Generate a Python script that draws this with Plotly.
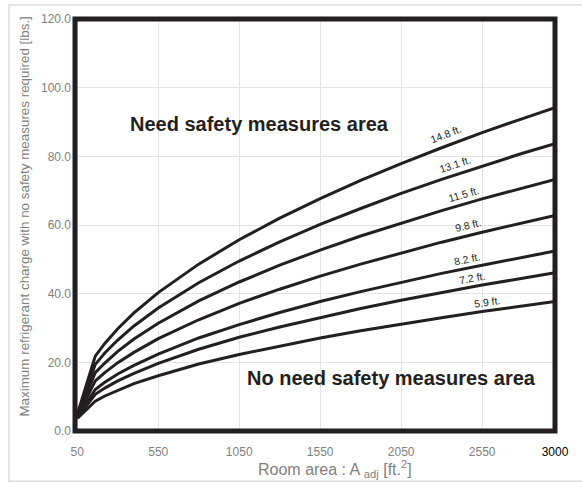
import numpy as np
import plotly.graph_objects as go

# Room area sample points [ft²]
room_area = [50, 161, 220, 300, 400, 550, 800, 1050, 1300, 1550, 1800, 2050, 2300, 2550, 2800, 3000]

# Ceiling height labels and max refrigerant charge [lbs.] per height
heights = ["14.8 ft.", "13.1 ft.", "11.5 ft.", "9.8 ft.", "8.2 ft.", "7.2 ft.", "5.9 ft."]
charge_14_8 = [4.8, 21.8, 25.5, 29.8, 34.4, 40.3, 48.6, 55.7, 62.0, 67.7, 73.0, 77.9, 82.5, 86.9, 91.0, 94.2]
charge_13_1 = [4.6, 19.4, 22.7, 26.5, 30.6, 35.8, 43.2, 49.5, 55.1, 60.2, 64.8, 69.2, 73.3, 77.2, 80.9, 83.7]
charge_11_5 = [4.4, 17.0, 19.8, 23.2, 26.8, 31.4, 37.9, 43.4, 48.3, 52.7, 56.8, 60.6, 64.2, 67.6, 70.8, 73.3]
charge_9_8 = [4.2, 14.6, 17.0, 19.9, 22.9, 26.9, 32.4, 37.2, 41.3, 45.1, 48.6, 51.9, 55.0, 57.9, 60.7, 62.8]
charge_8_2 = [4.0, 12.1, 14.2, 16.6, 19.1, 22.4, 27.1, 31.0, 34.5, 37.7, 40.6, 43.3, 45.9, 48.3, 50.6, 52.4]
charge_7_2 = [3.9, 10.7, 12.5, 14.6, 16.8, 19.7, 23.8, 27.3, 30.3, 33.1, 35.7, 38.1, 40.4, 42.5, 44.5, 46.1]
charge_5_9 = [3.7, 8.7, 10.2, 11.9, 13.8, 16.1, 19.5, 22.3, 24.8, 27.1, 29.2, 31.2, 33.0, 34.8, 36.4, 37.7]
series = [charge_14_8, charge_13_1, charge_11_5, charge_9_8, charge_8_2, charge_7_2, charge_5_9]

x_ticks = [50, 550, 1050, 1550, 2050, 2550, 3000]
y_ticks = [0, 20, 40, 60, 80, 100, 120]

INK = "#231f20"
GREY = "#808080"
FONT = "Liberation Sans, Arial, sans-serif"

W, H = 582, 483
M = dict(l=75, r=27, t=16, b=52)
X_RANGE = [36, 3000]
Y_RANGE = [0, 120]
PW = W - M["l"] - M["r"]
PH = H - M["t"] - M["b"]


def paper_x(px):
    return (px - M["l"]) / PW


def paper_y(py):
    return (H - M["b"] - py) / PH


fig = go.Figure()
for vals, name in zip(series, heights):
    fig.add_trace(go.Scatter(
        x=room_area, y=vals, mode="lines", name=name,
        line=dict(color=INK, width=3), hoverinfo="skip", showlegend=False,
    ))

# Rotated height labels sitting just above each curve
label_at = {"14.8 ft.": 2350, "13.1 ft.": 2405, "11.5 ft.": 2455, "9.8 ft.": 2480,
            "8.2 ft.": 2465, "7.2 ft.": 2495, "5.9 ft.": 2585}
label_gap = {"14.8 ft.": 11, "13.1 ft.": 10, "11.5 ft.": 10, "9.8 ft.": 10,
             "8.2 ft.": 9, "7.2 ft.": 9, "5.9 ft.": 9}
px_per_x = PW / (X_RANGE[1] - X_RANGE[0])
px_per_y = PH / (Y_RANGE[1] - Y_RANGE[0])
for vals, name in zip(series, heights):
    xa = label_at[name]
    ya = float(np.interp(xa, room_area, vals))
    dv = (np.interp(xa + 100, room_area, vals) - np.interp(xa - 100, room_area, vals)) / 200
    ang = float(np.degrees(np.arctan(dv * px_per_y / px_per_x)))
    d = label_gap[name]
    fig.add_annotation(
        x=xa, y=ya, text=name, showarrow=False, textangle=-ang,
        xanchor="center", yanchor="middle",
        xshift=-np.sin(np.radians(ang)) * d, yshift=np.cos(np.radians(ang)) * d,
        font=dict(family=FONT, size=10.5, color=INK),
    )

# Region captions
for text, cx, cy in [("Need safety measures area", 259, 122),
                     ("No need safety measures area", 391, 378)]:
    fig.add_annotation(x=paper_x(cx), y=paper_y(cy), xref="paper", yref="paper",
                       xanchor="center", yanchor="middle", text=f"<b>{text}</b>",
                       showarrow=False, font=dict(family=FONT, size=20, color=INK))

# Axis titles
fig.add_annotation(x=paper_x(335), y=paper_y(469), xref="paper", yref="paper",
                   xanchor="center", yanchor="middle", showarrow=False,
                   text="Room area : A <sub>adj</sub> [ft.<sup>2</sup>]",
                   font=dict(family=FONT, size=16, color=GREY))
fig.add_annotation(x=paper_x(25), y=paper_y(215), xref="paper", yref="paper",
                   xanchor="center", yanchor="middle", showarrow=False, textangle=-90,
                   text="Maximum refrigerant charge with no safety measures required [lbs.]",
                   font=dict(family=FONT, size=13.4, color=GREY))

# Plot frame and outer panel border
fig.add_shape(type="rect", xref="paper", yref="paper", x0=0, y0=0, x1=1, y1=1,
              line=dict(color=INK, width=5), layer="above")
fig.add_shape(type="rect", xref="paper", yref="paper",
              x0=paper_x(9), y0=paper_y(481.5), x1=paper_x(600), y1=paper_y(2),
              line=dict(color="#dcdcdc", width=1.5), layer="below")

x_text = [str(v) for v in x_ticks]
x_text[-1] = f'<span style="color:black">{x_text[-1]}</span>'

fig.update_layout(
    width=W, height=H, autosize=False, margin=dict(**M, pad=0),
    paper_bgcolor="white", plot_bgcolor="white",
    font=dict(family=FONT, color=GREY, size=12),
    xaxis=dict(range=X_RANGE, tickvals=x_ticks, ticktext=x_text, showgrid=True,
               gridcolor="#e3e3e3", gridwidth=1, zeroline=False, showline=False,
               tickfont=dict(size=12, color=GREY), ticks="", ticklabelstandoff=12),
    yaxis=dict(range=Y_RANGE, tickvals=y_ticks, ticktext=[f"{v:.1f}" for v in y_ticks],
               showgrid=True, gridcolor="#e3e3e3", gridwidth=1, zeroline=False, showline=False,
               tickfont=dict(size=12, color=GREY), ticks="", ticklabelstandoff=3),
)

fig.write_html("out.html")
